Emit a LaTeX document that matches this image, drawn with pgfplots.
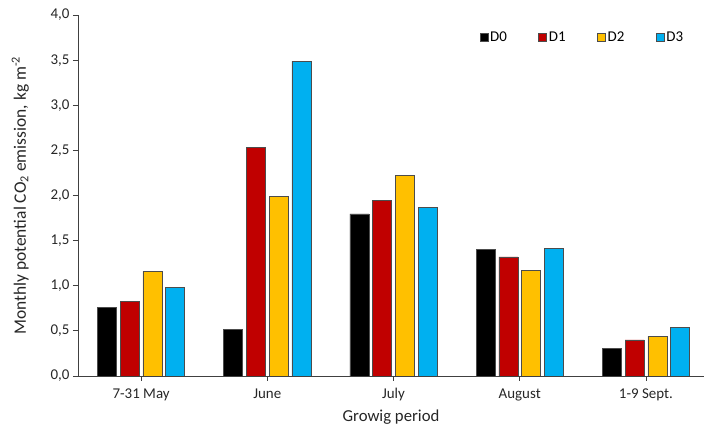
\documentclass[border=0pt]{standalone}
\usepackage{pgfplots}
\pgfplotsset{compat=1.18}
\usepackage{fontspec}
\setmainfont{Carlito}
\definecolor{cD0}{HTML}{000000}
\definecolor{cD1}{HTML}{C00000}
\definecolor{cD2}{HTML}{FFC000}
\definecolor{cD3}{HTML}{00B0F0}
\definecolor{axgray}{HTML}{404040}
\begin{document}
\begin{tikzpicture}
\begin{axis}[
  scale only axis,
  width=626bp, height=361bp,
  ybar=3.7bp, bar width=19bp,
  xmin=-0.5, xmax=4.46,
  ymin=0, ymax=4.0,
  ytick={0,0.5,...,4.0},
  xtick={0,1,2,3,4},
  xticklabels={7-31 May, June, July, August, 1-9 Sept.},
  axis lines*=left,
  axis line style={axgray, line width=0.8pt},
  tick style={axgray, line width=0.8pt},
  tick align=outside,
  major tick length=5bp,
  tick label style={font=\fontsize{15}{17}\selectfont, text=black!85},
  xticklabel style={yshift=-4bp},
  label style={font=\fontsize{16.8}{19}\selectfont, text=black!85},
  /pgf/number format/.cd, fixed, fixed zerofill, precision=1, use comma, assume math mode=true,
  /pgfplots/.cd,
  xlabel={Growig period},
  ylabel={Monthly potential CO\textsubscript{2} emission, kg m\textsuperscript{-2}},
  xlabel style={yshift=-2bp},
  ylabel style={yshift=15bp, font=\fontsize{17.5}{19}\selectfont},
  legend style={draw=none, fill=none, at={(0.975,0.965)}, anchor=north east,
    legend columns=4, font=\fontsize{15}{17}\selectfont,
    /tikz/every even column/.append style={column sep=29.5bp}},
  legend image code/.code={\draw[#1, draw=black!70, line width=0.5pt] (0bp,-4bp) rectangle (8bp,4bp);},
  legend cell align=left,
  every axis plot/.append style={draw=black!70, line width=0.6pt},
]
\addplot[fill=cD0] coordinates {(0,0.76) (1,0.52) (2,1.795) (3,1.40) (4,0.31)};
\addplot[fill=cD1] coordinates {(0,0.83) (1,2.53) (2,1.95) (3,1.32) (4,0.40)};
\addplot[fill=cD2] coordinates {(0,1.16) (1,1.99) (2,2.22) (3,1.17) (4,0.44)};
\addplot[fill=cD3] coordinates {(0,0.98) (1,3.49) (2,1.87) (3,1.415) (4,0.54)};
\legend{D0, D1, D2, D3}
\end{axis}
\pgfresetboundingbox
\path (current axis.south west) ++(-78bp,-56bp) rectangle ++(704bp,432bp);
\end{tikzpicture}
\end{document}
